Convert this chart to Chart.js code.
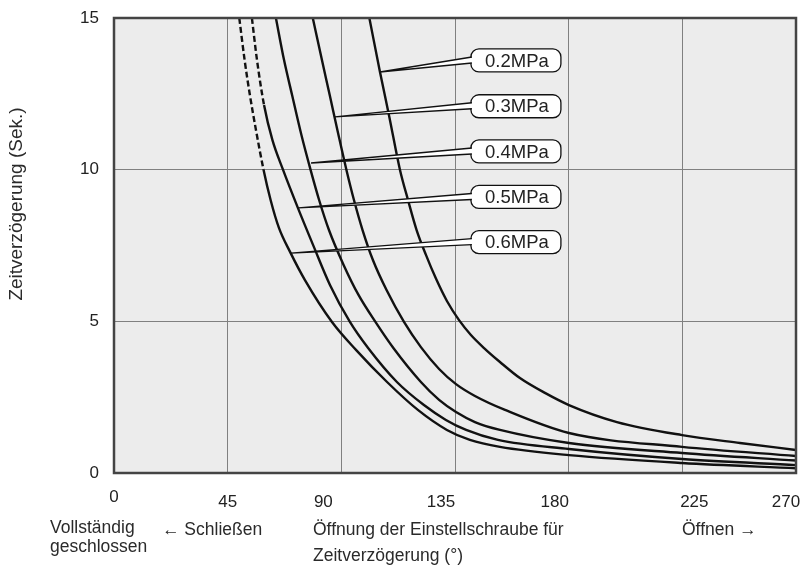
<!DOCTYPE html>
<html>
<head>
<meta charset="utf-8">
<script src="https://cdn.jsdelivr.net/npm/chart.js@4.4.1/dist/chart.umd.min.js"></script>
<style>
  html, body { margin: 0; padding: 0; background: #fff; }
</style>
</head>
<body>
<canvas id="myChart" width="807" height="565"></canvas>
<script>
// curves: opening of the screw (deg) -> delay (s), one pair per pressure
const degP02 = [101.1, 105.3, 109.0, 113.2, 116.4, 119.8, 123.5, 127.5, 131.8, 136.6, 141.3, 146.5, 152.8, 160.7, 170.6, 180.1, 199.1, 224.9, 247.8, 270];
const secP02 = [15, 13.22, 11.74, 10.0, 9.0, 8.01, 7.19, 6.40, 5.67, 5.04, 4.55, 4.12, 3.66, 3.13, 2.64, 2.24, 1.68, 1.25, 0.99, 0.76];

const degP03 = [78.7, 82.3, 85.4, 88.7, 92.0, 95.0, 98.4, 102.5, 107.9, 114.8, 121.5, 128.7, 135.4, 142.9, 154.8, 180.1, 224.9, 270];
const secP03 = [15, 13.62, 12.46, 11.21, 10.0, 9.0, 8.01, 7.02, 6.03, 4.98, 4.15, 3.43, 2.93, 2.54, 2.08, 1.32, 0.86, 0.56];

const degP04 = [64.1, 67.3, 70.5, 74.2, 77.8, 81.2, 85.1, 90.9, 96.8, 103.5, 110.6, 121.5, 128.7, 135.4, 142.9, 152.8, 180.1, 224.9, 270];
const secP04 = [15, 13.62, 12.46, 11.14, 10.0, 9.0, 8.01, 6.86, 5.87, 4.98, 4.12, 3.0, 2.41, 2.01, 1.68, 1.42, 0.99, 0.66, 0.41];

const degP05 = [54.6, 56.6, 59.4, 62.7, 66.9, 72.8, 78.8, 85.5, 93.4, 100.6, 112.0, 122.7, 131.4, 139.4, 152.0, 180.1, 224.9, 270];
const secP05 = [15, 13.62, 12.13, 10.98, 10.0, 8.74, 7.52, 6.2, 4.98, 4.12, 3.0, 2.24, 1.75, 1.42, 1.09, 0.79, 0.46, 0.26];

const degP06 = [49.6, 51.7, 53.8, 56.2, 59.2, 62.0, 65.3, 69.7, 75.6, 86.3, 95.8, 108.1, 120.3, 131.8, 140.9, 152.8, 180.1, 224.9, 270];
const secP06 = [15, 13.62, 12.46, 11.31, 10.0, 9.0, 8.08, 7.29, 6.36, 4.98, 4.06, 3.0, 2.08, 1.42, 1.09, 0.86, 0.59, 0.33, 0.155];

const pressureLabels = ["0.2MPa", "0.3MPa", "0.4MPa", "0.5MPa", "0.6MPa"];
// dashed part of the curve down to this delay (null = all solid)
const dashDownTo = [null, null, null, 12.13, 10.0];

const xTicks = [0, 45, 90, 135, 180, 225, 270];
const yTicks = [0, 5, 10, 15];

// leader tips on the curves and label boxes, in chart units
const tipDeg = [105.3, 87.5, 78.0, 73.0, 70.0];
const tipSec = [13.22, 11.74, 10.22, 8.74, 7.25];
const boxDeg = 141.3;
const boxSec = [13.6, 12.09, 10.6, 9.1, 7.61];

function pts(xs, ys) {
  return xs.map((x, i) => ({ x: x, y: ys[i] }));
}

const series = [
  pts(degP02, secP02),
  pts(degP03, secP03),
  pts(degP04, secP04),
  pts(degP05, secP05),
  pts(degP06, secP06),
];

const FONT = "'Liberation Sans', Arial, sans-serif";
const tickNudge = [0, 0, -18, -14, -14, 12, -10];

const decor = {
  id: "decor",
  beforeDraw(chart) {
    const { ctx, chartArea: a } = chart;
    ctx.save();
    ctx.fillStyle = "#ececec";
    ctx.fillRect(a.left, a.top, a.right - a.left, a.bottom - a.top);
    ctx.restore();
  },
  afterDatasetsDraw(chart) {
    const { ctx } = chart;
    const xs = chart.scales.x, ys = chart.scales.y;
    ctx.save();
    pressureLabels.forEach((txt, i) => {
      const tx = xs.getPixelForValue(tipDeg[i]);
      const ty = ys.getPixelForValue(tipSec[i]);
      const bx = xs.getPixelForValue(boxDeg);
      const cy = ys.getPixelForValue(boxSec[i]);
      const w = 90, h = 23, r = 8;
      // box
      ctx.beginPath();
      ctx.roundRect(bx, cy - h / 2, w, h, r);
      ctx.fillStyle = "#fff";
      ctx.fill();
      ctx.lineWidth = 1.3;
      ctx.strokeStyle = "#111";
      ctx.stroke();
      // wedge leader
      ctx.beginPath();
      ctx.moveTo(tx, ty);
      ctx.lineTo(bx + 3, cy - 3.5);
      ctx.lineTo(bx + 3, cy + 2.5);
      ctx.closePath();
      ctx.fillStyle = "#fff";
      ctx.fill();
      ctx.beginPath();
      ctx.moveTo(bx + 1, cy - 3.5);
      ctx.lineTo(tx, ty);
      ctx.lineTo(bx + 1, cy + 2.5);
      ctx.lineWidth = 1.4;
      ctx.stroke();
      // text
      ctx.fillStyle = "#222";
      ctx.font = "18.5px " + FONT;
      ctx.textAlign = "center";
      ctx.textBaseline = "middle";
      ctx.fillText(txt, bx + w / 2 + 1, cy + 1);
    });
    ctx.restore();
  },
  afterDraw(chart) {
    const { ctx, chartArea: a } = chart;
    const xs = chart.scales.x;
    ctx.save();
    // frame
    ctx.strokeStyle = "#444";
    ctx.lineWidth = 2.5;
    ctx.strokeRect(a.left, a.top, a.right - a.left, a.bottom - a.top);
    // x tick labels
    ctx.fillStyle = "#222";
    ctx.font = "17px " + FONT;
    ctx.textAlign = "center";
    ctx.textBaseline = "alphabetic";
    xTicks.forEach((v, i) => {
      const px = xs.getPixelForValue(v) + tickNudge[i];
      ctx.fillText(String(v), px, i === 0 ? 502 : 507);
    });
    // axis notes
    ctx.textAlign = "left";
    ctx.font = "17.5px " + FONT;
    ctx.fillStyle = "#2a2a2a";
    ctx.fillText("Vollständig", 50, 533);
    ctx.fillText("geschlossen", 50, 552);
    ctx.fillText("\u2190 Schließen", 162, 535);
    ctx.fillText("Öffnung der Einstellschraube für", 313, 535);
    ctx.fillText("Zeitverzögerung (°)", 313, 561);
    ctx.fillText("Öffnen \u2192", 682, 535);
    // y title
    ctx.font = "19px " + FONT;
    ctx.translate(17, 204);
    ctx.rotate(-Math.PI / 2);
    ctx.textAlign = "center";
    ctx.textBaseline = "middle";
    ctx.fillText("Zeitverzögerung (Sek.)", 0, 0);
    ctx.restore();
  },
};

{
  const ctx = document.getElementById("myChart");

  new Chart(ctx, {
    type: "scatter",
    data: {
      datasets: series.map((data, i) => ({
        label: pressureLabels[i],
        data: data,
        showLine: true,
        borderColor: "#111",
        borderWidth: 2.4,
        pointRadius: 0,
        cubicInterpolationMode: "monotone",
        segment: {
          borderDash: (c) =>
            dashDownTo[i] !== null && c.p1.parsed.y >= dashDownTo[i] - 0.01 ? [6, 3] : undefined,
        },
      })),
    },
    options: {
      responsive: false,
      animation: false,
      devicePixelRatio: 1,
      layout: { padding: { top: 18, right: 11, left: 0, bottom: 0 } },
      scales: {
        x: {
          type: "linear",
          min: 0,
          max: 270,
          afterBuildTicks: (s) => { s.ticks = xTicks.map((v) => ({ value: v })); },
          afterFit: (s) => { s.height = 92; s.paddingLeft = 0; s.paddingRight = 0; },
          border: { display: false },
          grid: { color: "#808080", lineWidth: 1, drawTicks: false },
          ticks: { display: false },
        },
        y: {
          min: 0,
          max: 15,
          afterBuildTicks: (s) => { s.ticks = yTicks.map((v) => ({ value: v })); },
          afterFit: (s) => { s.width = 114; s.paddingTop = 0; s.paddingBottom = 0; },
          border: { display: false },
          grid: { color: "#808080", lineWidth: 1, drawTicks: false },
          ticks: {
            padding: 15,
            color: "#222",
            font: { size: 17, family: FONT },
          },
        },
      },
      plugins: {
        legend: { display: false },
        tooltip: { enabled: false },
      },
    },
    plugins: [decor],
  });
}
</script>
</body>
</html>
